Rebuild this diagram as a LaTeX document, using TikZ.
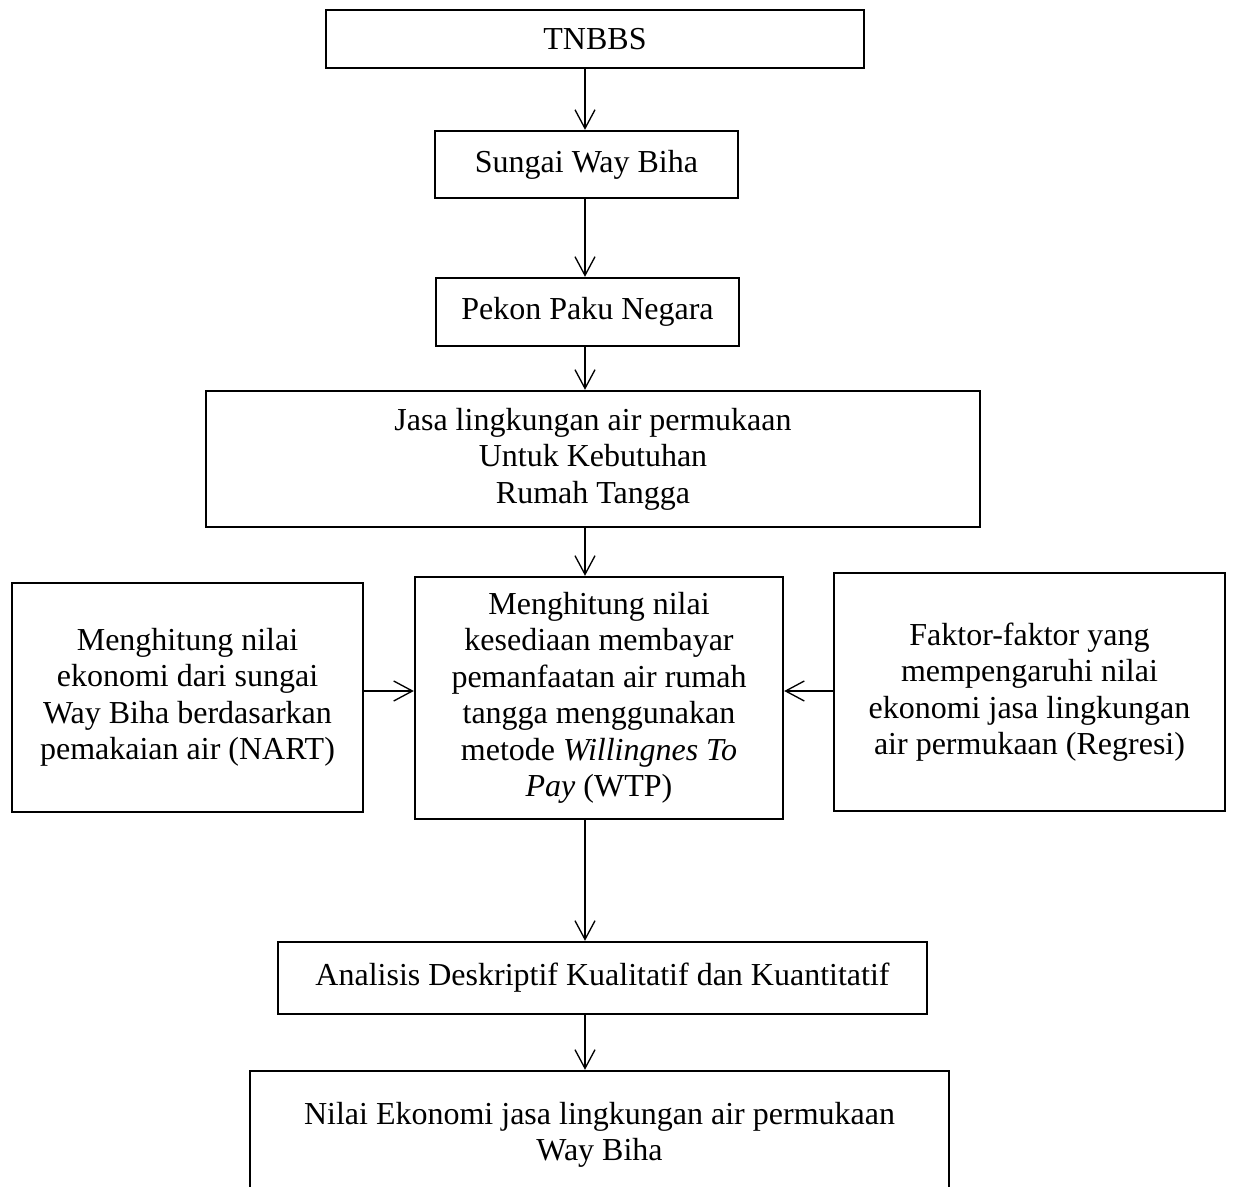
\documentclass[tikz,border=0pt]{standalone}
\usepackage{fontspec}
\setmainfont{Liberation Serif}
\usetikzlibrary{arrows.meta}

\begin{document}
\begin{tikzpicture}[x=0.375pt,y=-0.375pt,
			>={Straight Barb[length=7pt,width=7.5pt]},
			box/.style={
				draw,
				line width=0.9pt,
				inner sep=0pt,
				align=center,
				font=\fontsize{12}{13.7}\selectfont
			},
			link/.style={->,line width=0.5pt}]
			
			\useasboundingbox(0,0)rectangle(1233,1187);
			
			\coordinate(axis)at(585,691);
			
			\node(tnbbs)[box,minimum width=201.75pt,minimum height=21.75pt]at(595,39){TNBBS};
			
			\node(sungai)[box,minimum width=113.6pt,minimum height=25.1pt]at(586.5,164.5){Sungai Way Biha};
			
			\node(pekon)[box,minimum width=113.6pt,minimum height=25.5pt]at(587.5,312){Pekon Paku Negara};
			
			\node(jasa)[box,minimum width=290.25pt,minimum height=51pt]at(593,459){Jasa lingkungan air permukaan\\Untuk Kebutuhan\\Rumah Tangga};
			
			\node(wtp)[box,minimum width=138pt,minimum height=90.75pt]at(599,698){Menghitung nilai\\kesediaan membayar\\pemanfaatan air rumah\\tangga menggunakan\\metode \textit{Willingnes To}\\\textit{Pay} (WTP)};
			
			\node(nart)[box,minimum width=131.6pt,minimum height=85.9pt]at(187.5,697.5){Menghitung nilai\\ekonomi dari sungai\\Way Biha berdasarkan\\pemakaian air (NART)};
			
			\node(regresi)[box,minimum width=146.6pt,minimum height=89.25pt]at(1029.5,692){Faktor-faktor yang\\mempengaruhi nilai\\ekonomi jasa lingkungan\\air permukaan (Regresi)};
			
			\node(analisis)[box,minimum width=243.4pt,minimum height=27pt]at(602.5,978){Analisis Deskriptif Kualitatif dan Kuantitatif};
			
			\node(nilai)[box,minimum width=262.1pt,minimum height=48pt]at(599.5,1135){Nilai Ekonomi jasa lingkungan air permukaan\\Way Biha};
			
			\draw[link](tnbbs.south-|axis)--(sungai.north-|axis);
			
			\draw[link](sungai.south-|axis)--(pekon.north-|axis);
			
			\draw[link](pekon.south-|axis)--(jasa.north-|axis);
			
			\draw[link](jasa.south-|axis)--(wtp.north-|axis);
			
			\draw[link](nart.east|-axis)--(wtp.west|-axis);
			
			\draw[link](regresi.west|-axis)--(wtp.east|-axis);
			
			\draw[link](wtp.south-|axis)--(analisis.north-|axis);
			
			\draw[link](analisis.south-|axis)--(nilai.north-|axis);
			
		\end{tikzpicture}
\end{document}
